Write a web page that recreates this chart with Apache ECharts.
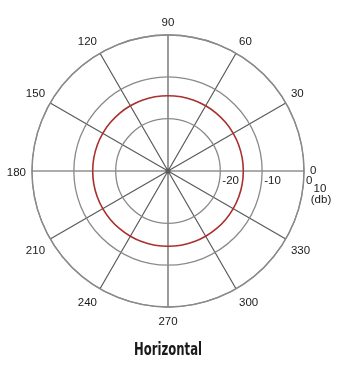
<!DOCTYPE html>
<html>
<head>
<meta charset="utf-8">
<script src="https://cdn.jsdelivr.net/npm/echarts@6/dist/echarts.min.js"></script>
<style>
html,body{margin:0;padding:0;background:#fff;}
#chart{width:345px;height:372px;}
</style>
</head>
<body>
<div id="chart"></div>
<script>
// Angle tick labels (degrees)
var angleTicks = [0, 30, 60, 90, 120, 150, 180, 210, 240, 270, 300, 330];
// Radius ring values (dB)
var ringValues = [-20, -10, 0];
var radiusMin = -32.5;
var radiusMax = 0;
// Horizontal pattern, read every 10 degrees (dB)
var patternAngles = [0,10,20,30,40,50,60,70,80,90,100,110,120,130,140,150,160,170,180,190,200,210,220,230,240,250,260,270,280,290,300,310,320,330,340,350,360];
var patternValues = [-14.5,-14.5,-14.5,-14.5,-14.5,-14.5,-14.5,-14.5,-14.5,-14.5,-14.5,-14.5,-14.5,-14.5,-14.5,-14.5,-14.5,-14.5,-14.5,-14.5,-14.5,-14.5,-14.5,-14.5,-14.5,-14.5,-14.5,-14.5,-14.5,-14.5,-14.5,-14.5,-14.5,-14.5,-14.5,-14.5,-14.5];
var titleText = 'Horizontal';
var unitLines = ['10', '(db)'];

var chart = echarts.init(document.getElementById('chart'), null, {renderer: 'canvas'});
var seriesData = patternAngles.map(function (a, i) { return [patternValues[i], a]; });
var font = "'Liberation Sans', Arial, sans-serif";

chart.setOption({
  animation: false,
  backgroundColor: '#fff',
  polar: { center: [168, 171], radius: 136 },
  angleAxis: {
    type: 'value', min: 0, max: 360, interval: 30,
    startAngle: 0, clockwise: false,
    axisLine: { show: true, lineStyle: { color: '#8a8a8a', width: 1.3 } },
    axisTick: { show: false },
    splitLine: { show: true, lineStyle: { color: '#5a5a5a', width: 1.2 } },
    axisLabel: {
      margin: 6, fontSize: 11.5, color: '#1a1a1a', fontFamily: font,
      align: 'center', verticalAlign: 'middle', padding: [3, 0, 0, 0],
      customValues: angleTicks,
      formatter: function (v) { return v === 360 ? '' : (v === 0 ? '{z|0}' : String(v)); },
      rich: { z: { fontSize: 11.5, color: '#1a1a1a', fontFamily: font, padding: [0, 0, 3, 0] } }
    }
  },
  radiusAxis: {
    type: 'value', min: radiusMin, max: radiusMax,
    axisLine: { show: false },
    axisTick: { show: false, customValues: ringValues },
    splitLine: { show: true, lineStyle: { color: '#8a8a8a', width: 1.3 } },
    axisLabel: {
      show: true, customValues: ringValues, fontSize: 11.5, color: '#1a1a1a', fontFamily: font,
      align: 'left', verticalAlign: 'top', margin: -4, padding: [0, 0, 0, 2]
    },
    z: 10
  },
  series: [{
    type: 'line', coordinateSystem: 'polar',
    data: seriesData, smooth: true, showSymbol: false, symbol: 'none',
    lineStyle: { color: '#a8302f', width: 1.6 }, z: 5
  }],
  graphic: [
    { type: 'text', x: 320, y: 189, style: { text: unitLines[0], textAlign: 'center', textVerticalAlign: 'middle', font: "11.5px 'Liberation Sans', Arial, sans-serif", fill: '#1a1a1a' } },
    { type: 'text', x: 321, y: 199.5, style: { text: unitLines[1], textAlign: 'center', textVerticalAlign: 'middle', font: "11.5px 'Liberation Sans', Arial, sans-serif", fill: '#1a1a1a' } },
    { type: 'text', x: 168, y: 350, scaleX: 0.74, style: { text: titleText, textAlign: 'center', textVerticalAlign: 'middle', font: "bold 17.5px 'DejaVu Sans Condensed', 'Liberation Sans', sans-serif", fill: '#1a1a1a' } }
  ]
});
</script>
</body>
</html>
